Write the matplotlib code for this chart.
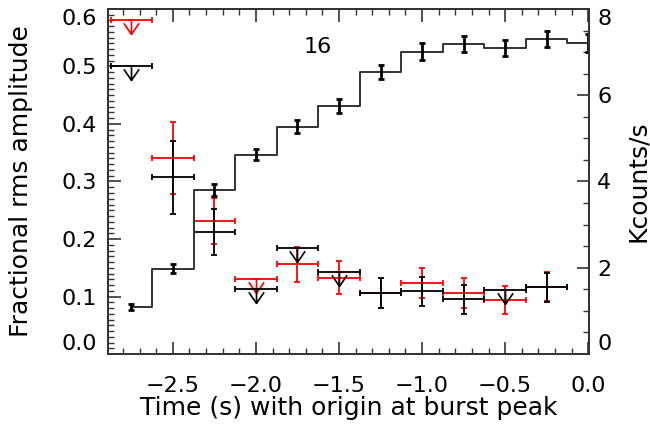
import numpy as np
import matplotlib
matplotlib.use("Agg")
import matplotlib.pyplot as plt
from matplotlib.path import Path
from matplotlib.ticker import MultipleLocator

# count rate (right axis, Kcounts/s)
t_rate = [-2.75, -2.5, -2.25, -2.0, -1.75, -1.5, -1.25, -1.0, -0.75, -0.5, -0.25, 0.0]
rate = [1.09, 1.98, 3.80, 4.62, 5.27, 5.75, 6.54, 7.01, 7.19, 7.10, 7.31, 7.22]
rate_err = [0.08, 0.10, 0.14, 0.13, 0.15, 0.16, 0.17, 0.19, 0.18, 0.18, 0.19, 0.21]

# fractional rms amplitude (left axis)
t_rms = [-2.75, -2.5, -2.25, -2.0, -1.75, -1.5, -1.25, -1.0, -0.75, -0.5, -0.25]
t_halfbin = 0.125
black_rms = [0.50, 0.307, 0.213, 0.113, 0.184, 0.142, 0.106, 0.109, 0.095, 0.111, 0.116]
black_err = [0, 0.064, 0.040, 0, 0, 0, 0.026, 0.025, 0.025, 0, 0.025]
black_ul = [True, False, False, True, True, True, False, False, False, True, False]
red_rms = [0.58, 0.341, 0.232, 0.130, 0.156, 0.133, 0.106, 0.123, 0.106, 0.094, 0.117]
red_err = [0, 0.063, 0.040, 0, 0.030, 0.028, 0.026, 0.026, 0.026, 0.025, 0.025]
red_ul = [True, False, False, True, False, False, False, False, False, False, False]

panel_label = "16"

plt.rcParams['font.family'] = ['DejaVu Sans']

# downward arrow for upper limits: vertical stem plus a "V" head
arrow = Path([(0, 0), (0, -1), (-0.55, -0.2), (0, -1), (0.55, -0.2)],
             [Path.MOVETO, Path.LINETO, Path.MOVETO, Path.LINETO, Path.LINETO])

fig = plt.figure(figsize=(6.5, 4.34), dpi=100)
ax = fig.add_axes([0.1662, 0.1843, 0.74, 0.795])
ax2 = ax.twinx()


def draw_rms(x, y, err, ul, color):
    x = np.array(x)
    y = np.array(y)
    err = np.array(err)
    ul = np.array(ul)
    ax.errorbar(x, y, xerr=t_halfbin, yerr=err, fmt='none', ecolor=color,
                elinewidth=1.3, capsize=2.5, capthick=1.3)
    ax.plot(x[ul], y[ul], linestyle='none', marker=arrow, markersize=20,
            markeredgecolor=color, markerfacecolor='none', markeredgewidth=1.2)


draw_rms(t_rms, red_rms, red_err, red_ul, 'red')
draw_rms(t_rms, black_rms, black_err, black_ul, 'black')

ax2.step(t_rate, rate, where='mid', color='#333333', lw=1.4)
ax2.errorbar(t_rate, rate, yerr=rate_err, fmt='none', ecolor='black',
             elinewidth=2, capsize=2.2, capthick=2)

ax.text(-1.627, 0.534, panel_label, fontsize=16, ha='center', va='center')

ax.set_xlim(-2.89, 0.005)
ax.set_ylim(0, 0.6)
ax2.set_ylim(0, 8)

ax.set_xticks([-2.5, -2.0, -1.5, -1.0, -0.5, 0.0])
ax.set_xticklabels(['\u22122.5', '\u22122.0', '\u22121.5', '\u22121.0', '\u22120.5', '0.0'])
ax.xaxis.set_minor_locator(MultipleLocator(0.1))
ax.set_yticks([0.0, 0.1, 0.2, 0.3, 0.4, 0.5, 0.6])
ax.set_yticklabels(['0.0', '0.1', '0.2', '0.3', '0.4', '0.5', '0.6'])
ax.yaxis.set_minor_locator(MultipleLocator(0.01))
ax2.set_yticks([0, 2, 4, 6, 8])
ax2.set_yticklabels(['0', '2', '4', '6', '8'])
ax2.yaxis.set_minor_locator(MultipleLocator(0.5))

ax.tick_params(axis='x', which='both', direction='in', top=True, labelsize=16, pad=16, color='#333333')
ax.tick_params(axis='y', which='both', direction='in', labelsize=16, pad=8, color='#333333')
ax2.tick_params(axis='y', which='both', direction='in', labelsize=16, pad=6, color='#333333')
ax.tick_params(which='major', length=9, width=1.2)
ax.tick_params(which='minor', length=4.5, width=1.0)
ax2.tick_params(which='major', length=9, width=1.2)
ax2.tick_params(which='minor', length=4.5, width=1.0)

# keep end labels inside the axis range
ax.get_yticklabels()[0].set_va('bottom')
ax.get_yticklabels()[-1].set_va('top')
ax2.get_yticklabels()[0].set_va('bottom')
ax2.get_yticklabels()[-1].set_va('top')

for a in (ax, ax2):
    for s in a.spines.values():
        s.set_linewidth(1.3)
        s.set_color('#333333')

ax.set_xlabel('Time (s) with origin at burst peak', fontsize=18)
ax.set_ylabel('Fractional rms amplitude', fontsize=18)
ax2.set_ylabel('Kcounts/s', fontsize=18)
ax.xaxis.set_label_coords(0.5, -0.122)
ax.yaxis.set_label_coords(-0.156, 0.5)
ax2.yaxis.set_label_coords(1.077, 0.5)

fig.savefig('out.png', dpi=100)
